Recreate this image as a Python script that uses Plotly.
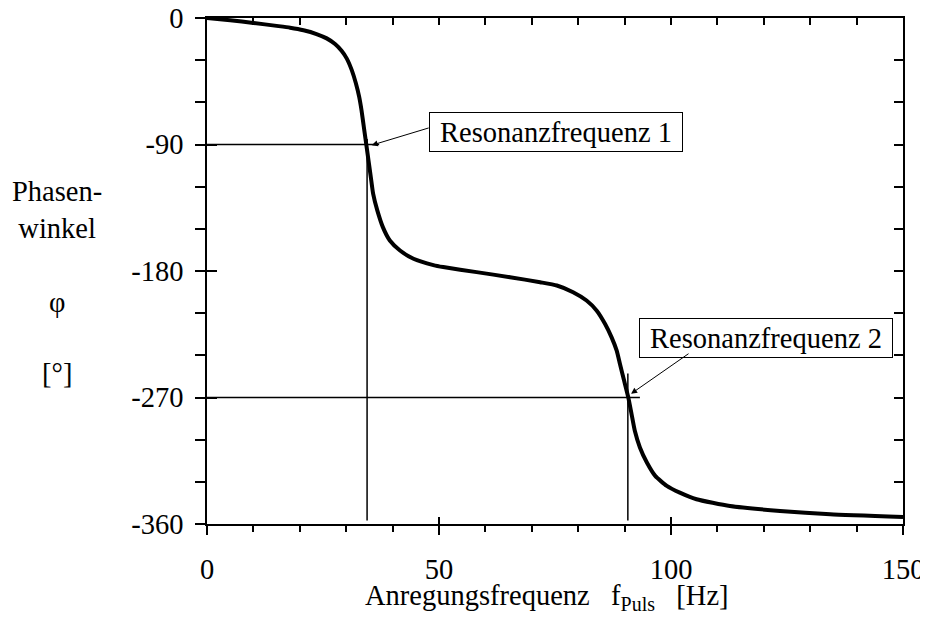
import plotly.graph_objects as go

# Phasengang
freq = [0, 5, 10, 15, 17.9, 20.8, 23.6, 25.8, 27.6, 29.0, 30.1, 31.2, 32.1,
        32.8, 33.3, 33.8, 34.3, 34.8, 35.3, 35.8, 36.7, 37.9, 39.4, 41.6, 44.5,
        48.8, 50.9, 58.1, 65.3, 71.8, 75.4, 78.9, 81.8, 84.0, 85.8, 87.2, 88.3,
        89.0, 89.9, 90.8, 91.5, 92.2, 93.3, 94.8, 96.6, 99.1, 101.9, 105.5,
        112.7, 123.5, 134.3, 150]
phase = [0, -1.6, -3.5, -5.6, -6.9, -8.7, -11.4, -14.5, -18.5, -23.3, -28.7,
         -37.1, -46.6, -56.1, -65.6, -77.5, -89.3, -101.2, -113.1, -125.0,
         -136.9, -148.8, -158.3, -165.4, -171.3, -175.8, -177.2, -180.8, -184.4,
         -188.0, -190.3, -195.1, -201.0, -208.2, -217.7, -227.2, -236.7, -246.2,
         -258.1, -270.0, -281.8, -293.7, -305.6, -316.3, -325.8, -332.9, -337.7,
         -342.4, -347.2, -350.7, -353.1, -355.0]

res_freq = [34.5, 90.7]
res_phase = [-90, -270]
res_labels = ["Resonanzfrequenz 1", "Resonanzfrequenz 2"]
label_pos = [(75.2, -81.1), (120.4, -227.8)]
arrow_tail = [(48.1, -77.9), (104.1, -238.1)]
arrow_tip = [(35.5, -90.5), (91.4, -267.3)]

x_ticks = [0, 50, 100, 150]
y_ticks = [0, -90, -180, -270, -360]
y_ticktext = ["0", "-90", "-180", "-270", "-360"]

FONT = "Liberation Serif, Times New Roman, serif"
FS = 28.5

fig = go.Figure()

fig.add_trace(go.Scatter(x=freq, y=phase, mode="lines",
                         line=dict(color="black", width=4, shape="spline", smoothing=0.5),
                         showlegend=False, hoverinfo="skip"))

# Hilfslinien an den Resonanzstellen
for f, p, up in zip(res_freq, res_phase, [4, 17]):
    fig.add_trace(go.Scatter(x=[0, f + 2.6], y=[p, p], mode="lines",
                             line=dict(color="black", width=1.5), showlegend=False))
    fig.add_trace(go.Scatter(x=[f, f], y=[-357.5, p + up], mode="lines",
                             line=dict(color="black", width=1.5), showlegend=False))

# leere Spuren fuer die Zusatzachsen (Ticks oben/rechts und durchgehende Hauptticks)
fig.add_trace(go.Scatter(x=[None], y=[None], xaxis="x2", yaxis="y2", showlegend=False))
fig.add_trace(go.Scatter(x=[None], y=[None], xaxis="x3", yaxis="y3", showlegend=False))

for txt, (lx, ly) in zip(res_labels, label_pos):
    fig.add_annotation(x=lx, y=ly, text=txt, showarrow=False,
                       xanchor="center", yanchor="middle",
                       font=dict(family=FONT, size=FS, color="black"),
                       bgcolor="white", bordercolor="black", borderwidth=1,
                       borderpad=2, width=248, height=34)
for (tx, ty), (hx, hy) in zip(arrow_tail, arrow_tip):
    fig.add_annotation(x=hx, y=hy, ax=tx, ay=ty, axref="x", ayref="y", text="",
                       showarrow=True, arrowhead=2, arrowsize=1.2, arrowwidth=1,
                       arrowcolor="black")

side_labels = [("Phasen-<br>winkel", 0.6215), ("φ", 0.4387), ("[°]", 0.2984)]
for txt, py in side_labels:
    fig.add_annotation(x=-0.2155, y=py, xref="paper", yref="paper", text=txt,
                       showarrow=False, xanchor="center", yanchor="middle",
                       font=dict(family=FONT, size=FS, color="black"))
fig.add_annotation(x=0.4878, y=-0.1443, xref="paper", yref="paper",
                   text="Anregungsfrequenz\u00a0\u00a0\u00a0f<sub>Puls</sub>\u00a0\u00a0\u00a0[Hz]",
                   showarrow=False, xanchor="center", yanchor="middle",
                   font=dict(family=FONT, size=FS, color="black"))

axis_common = dict(showgrid=False, zeroline=False, color="black", automargin=False,
                   linecolor="black", linewidth=1.5, tickcolor="black", tickwidth=1.5)

# Seite hat 8px Rand, daher Figur kleiner
fig.update_layout(
    width=920, height=612,
    margin=dict(l=199, r=25, t=10, b=96),
    paper_bgcolor="white", plot_bgcolor="white",
    font=dict(family=FONT, size=FS, color="black"),
    showlegend=False,
    xaxis=dict(range=[0, 150], tickvals=x_ticks, ticks="outside", ticklen=9,
               showline=True, ticklabelstandoff=10, ticklabeloverflow="allow",
               minor=dict(ticks="outside", dtick=10, ticklen=6, tickcolor="black", tickwidth=1.5),
               **axis_common),
    yaxis=dict(range=[-360, 0], tickvals=y_ticks, ticktext=y_ticktext,
               ticks="outside", ticklen=10, showline=True, ticklabelstandoff=6,
               ticklabeloverflow="allow",
               minor=dict(ticks="outside", dtick=30, ticklen=10, tickcolor="black", tickwidth=1.5),
               **axis_common),
    xaxis2=dict(range=[0, 150], overlaying="x", side="top", anchor="y",
                dtick=10, ticks="inside", ticklen=7, showticklabels=False,
                showline=True, **axis_common),
    yaxis2=dict(range=[-360, 0], overlaying="y", side="right", anchor="x",
                dtick=30, ticks="inside", ticklen=9, showticklabels=False,
                showline=True, **axis_common),
    xaxis3=dict(range=[0, 150], overlaying="x", side="bottom", anchor="y",
                tickvals=x_ticks, ticks="inside", ticklen=7, showticklabels=False,
                showline=False, **axis_common),
    yaxis3=dict(range=[-360, 0], overlaying="y", side="left", anchor="x",
                tickvals=y_ticks, ticks="inside", ticklen=10, showticklabels=False,
                showline=False, **axis_common),
)

fig.write_html("out.html")
